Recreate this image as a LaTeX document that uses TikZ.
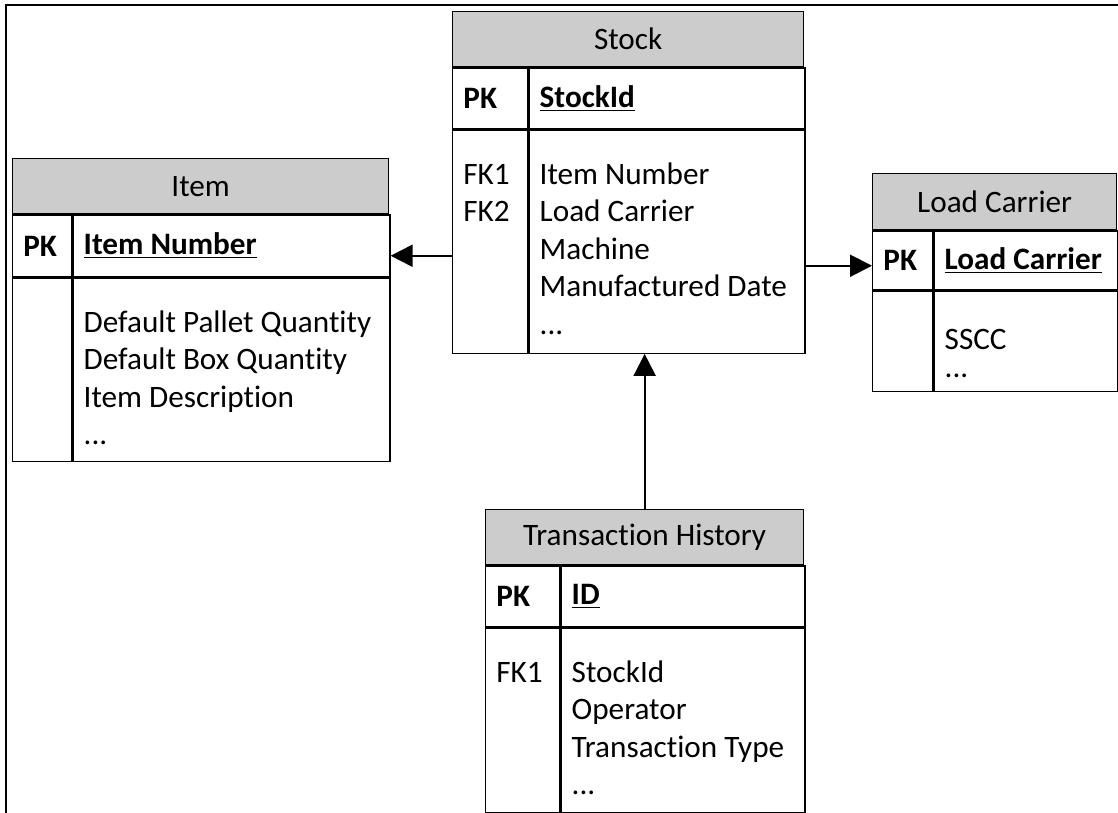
\documentclass[tikz,border=0pt]{standalone}
\usepackage{fontspec}
\setmainfont{Carlito}[Ligatures={NoCommon}]
\usetikzlibrary{arrows.meta,calc}
\definecolor{hdrgray}{RGB}{204,204,204}
\newcommand{\tblfont}{\fontsize{15.6}{18.75}\selectfont}
\newcommand{\topstrut}{\rule{0pt}{13pt}}
\tikzset{
  cell/.style={draw, line width=0.65pt, inner sep=0pt, anchor=north west},
  head/.style={cell, fill=hdrgray},
  key/.style={anchor=west, inner sep=0pt, xshift=5.5pt, font=\tblfont\bfseries},
  attr/.style={anchor=north west, inner sep=0pt, align=left, xshift=5.5pt, yshift=-14pt},
  fk/.style={line width=1pt, -{Triangle[length=11pt,width=11pt]}},
}
\begin{document}
\begin{tikzpicture}[x=0.5pt, y=-0.5pt, font=\tblfont]
  \useasboundingbox (0,0) rectangle (1118,813);
  % frame
  \draw[line width=1pt] (6,813) -- (6,5) -- (1118,5);

  % Stock
  \node[head, minimum width=175.5pt, minimum height=27.5pt] (stock) at (452,11) {Stock};
  \node[cell, minimum width=37.5pt, minimum height=30.5pt] (stock-pk) at (stock.south west) {};
  \node[cell, minimum width=138pt, minimum height=30.5pt] (stock-id) at (stock-pk.north east) {};
  \node[cell, minimum width=37.5pt, minimum height=111.5pt] (stock-fk) at (stock-pk.south west) {};
  \node[cell, minimum width=138pt, minimum height=111.5pt] (stock-attr) at (stock-fk.north east) {};
  \node[key] (stock-pk-t) at (stock-pk.west) {PK};
  \node[key] (stock-id-t) at (stock-id.west) {\underline{StockId}};
  \node[attr] (stock-fk-t) at (stock-fk.north west) {\topstrut FK1\\FK2};
  \node[attr] (stock-attr-t) at (stock-attr.north west) {\topstrut Item Number\\Load Carrier\\Machine\\Manufactured Date\\...};

  % Item
  \node[head, minimum width=188pt, minimum height=27.5pt] (item) at (12,158) {Item};
  \node[cell, minimum width=29.5pt, minimum height=31pt] (item-pk) at (item.south west) {};
  \node[cell, minimum width=158.5pt, minimum height=31pt] (item-nr) at (item-pk.north east) {};
  \node[cell, minimum width=29.5pt, minimum height=91.5pt] (item-fk) at (item-pk.south west) {};
  \node[cell, minimum width=158.5pt, minimum height=91.5pt] (item-attr) at (item-fk.north east) {};
  \node[key] (item-pk-t) at (item-pk.west) {PK};
  \node[key] (item-nr-t) at (item-nr.west) {\underline{Item Number}};
  \node[attr] (item-attr-t) at (item-attr.north west) {\topstrut Default Pallet Quantity\\Default Box Quantity\\Item Description\\...};

  % Load Carrier
  \node[head, minimum width=122pt, minimum height=28pt] (lc) at (872,173) {Load Carrier};
  \node[cell, minimum width=30pt, minimum height=29.5pt] (lc-pk) at (lc.south west) {};
  \node[cell, minimum width=92pt, minimum height=29.5pt] (lc-nr) at (lc-pk.north east) {};
  \node[cell, minimum width=30pt, minimum height=50pt] (lc-fk) at (lc-pk.south west) {};
  \node[cell, minimum width=92pt, minimum height=50pt] (lc-attr) at (lc-fk.north east) {};
  \node[key] (lc-pk-t) at (lc-pk.west) {PK};
  \node[key] (lc-nr-t) at (lc-nr.west) {\underline{Load Carrier}};
  \node[attr, yshift=-2pt] (lc-attr-t) at (lc-attr.north west) {\topstrut SSCC\\[-4.5pt]...};

  % Transaction History
  \node[head, minimum width=159pt, minimum height=27.5pt] (th) at (485,509) {Transaction History};
  \node[cell, minimum width=37pt, minimum height=30.5pt] (th-pk) at (th.south west) {};
  \node[cell, minimum width=122pt, minimum height=30.5pt] (th-id) at (th-pk.north east) {};
  \node[cell, minimum width=37pt, minimum height=92pt] (th-fk) at (th-pk.south west) {};
  \node[cell, minimum width=122pt, minimum height=92pt] (th-attr) at (th-fk.north east) {};
  \node[key] (th-pk-t) at (th-pk.west) {PK};
  \node[key] (th-id-t) at (th-id.west) {\underline{ID}};
  \node[attr] (th-fk-t) at (th-fk.north west) {\topstrut FK1};
  \node[attr] (th-attr-t) at (th-attr.north west) {\topstrut StockId\\Operator\\Transaction Type\\...};

  % relations
  \draw[fk] ([yshift=-7pt]stock-fk.west) coordinate (s1) -- (item-nr.east |- s1);
  \draw[fk] ([yshift=-12pt]stock-attr.east) coordinate (s2) -- (lc-pk.west |- s2);
  \draw[fk] (th.north) -- (th.north |- stock-attr.south);
\end{tikzpicture}
\end{document}
